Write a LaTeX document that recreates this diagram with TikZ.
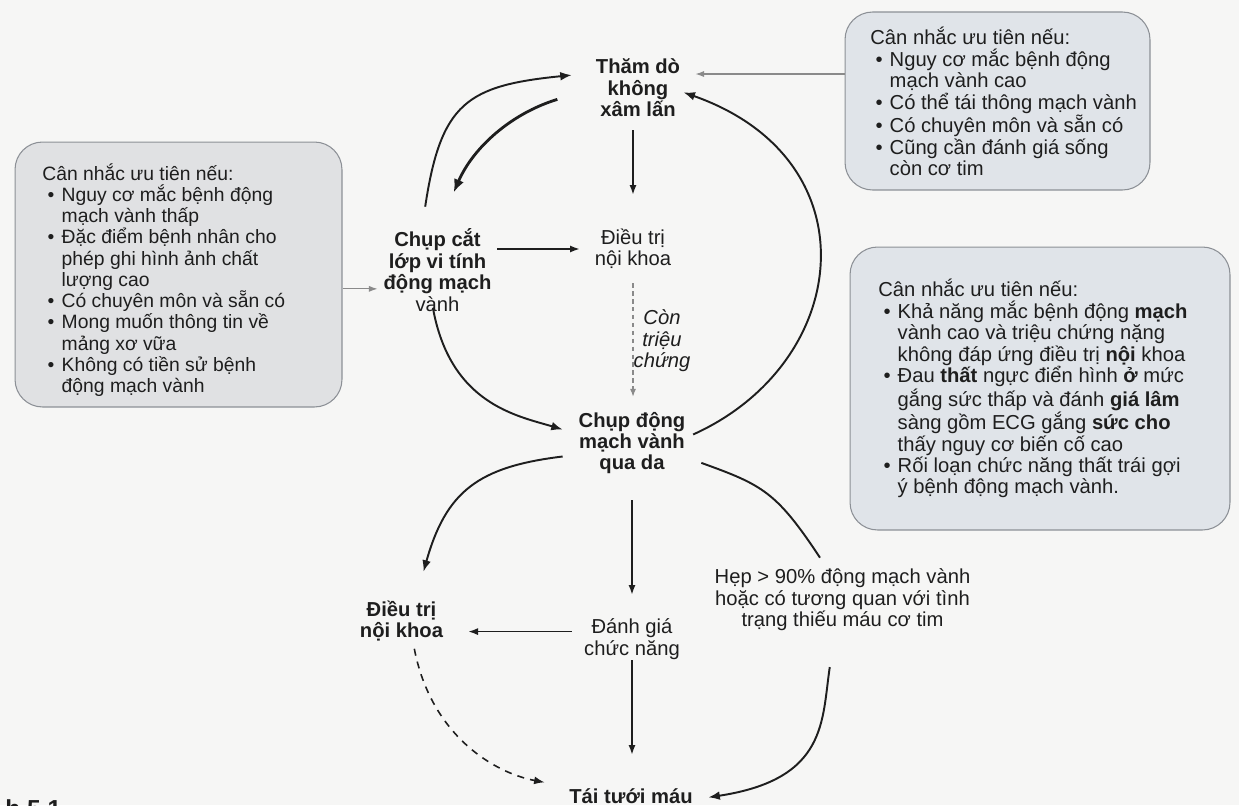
\documentclass[tikz,border=0pt]{standalone}
\usepackage{fontspec}
\setmainfont{Liberation Sans}
\usetikzlibrary{arrows.meta}

\definecolor{ink}{HTML}{1E1E1E}
\definecolor{paper}{HTML}{F6F6F5}
\definecolor{boxfillL}{HTML}{E0E1E3}
\definecolor{boxfill}{HTML}{E0E4E9}
\definecolor{boxedge}{HTML}{8C9096}
\definecolor{greyline}{HTML}{8A8A8A}

\newcommand{\fmain}{\fontsize{11.5}{12.2}\selectfont}
\newcommand{\fleft}{\fontsize{11}{12.1}\selectfont}
\newcommand{\bitem}[1]{\makebox[11pt][l]{\hspace{3pt}\textbullet}#1}
\newcommand{\bcont}[1]{\hspace*{11pt}#1}

\begin{document}
\begin{tikzpicture}[x=0.02cm, y=-0.02cm,
  lbl/.style={inner sep=0pt, align=center, text=ink, font=\fmain},
  blbl/.style={lbl, font=\fmain\bfseries},
  note/.style={draw=boxedge, line width=0.6pt, fill=boxfill, rounded corners=0.55cm, inner sep=0pt},
  notetext/.style={inner sep=0pt, align=left, text=ink, anchor=north west},
  arr/.style={draw=ink, line width=1.1pt, -{Latex[length=6.5pt,width=5pt]}},
  sarr/.style={draw=ink, line width=0.8pt, -{Latex[length=5.5pt,width=4pt]}},
  plainline/.style={draw=ink, line width=1.1pt},
  garr/.style={draw=greyline, line width=0.7pt, -{Latex[length=5pt,width=3.5pt]}},
  gdash/.style={draw=greyline, line width=0.6pt, dash pattern=on 2.5pt off 2pt, -{Latex[length=4.5pt,width=3.5pt]}},
  darr/.style={draw=ink, line width=0.9pt, dash pattern=on 4pt off 3.5pt, -{Latex[length=6pt,width=4.5pt]}}
]
% page
\useasboundingbox (0,0) rectangle (1239,805);
\fill[paper] (0,0) rectangle (1239,805);

% side notes
\node[note, fill=boxfillL, minimum width=6.54cm, minimum height=5.3cm] (boxL) at (178.5,274.5) {};
\node[notetext, font=\fleft] (tL) at (42,163) {Cân nhắc ưu tiên nếu:\\
\bitem{Nguy cơ mắc bệnh động}\\
\bcont{mạch vành thấp}\\
\bitem{Đặc điểm bệnh nhân cho}\\
\bcont{phép ghi hình ảnh chất}\\
\bcont{lượng cao}\\
\bitem{Có chuyên môn và sẵn có}\\
\bitem{Mong muốn thông tin về}\\
\bcont{mảng xơ vữa}\\
\bitem{Không có tiền sử bệnh}\\
\bcont{động mạch vành}};

\node[note, minimum width=6.1cm, minimum height=3.56cm] (boxTR) at (997.5,101) {};
\node[notetext, font=\fmain] (tTR) at (870,27) {Cân nhắc ưu tiên nếu:\\
\bitem{Nguy cơ mắc bệnh động}\\
\bcont{mạch vành cao}\\
\bitem{Có thể tái thông mạch vành}\\
\bitem{Có chuyên môn và sẵn có}\\
\bitem{Cũng cần đánh giá sống}\\
\bcont{còn cơ tim}};

\node[note, minimum width=7.6cm, minimum height=5.66cm] (boxR) at (1040,388.5) {};
\node[notetext, font=\fmain] (tR) at (878,279) {Cân nhắc ưu tiên nếu:\\
\bitem{Khả năng mắc bệnh động \textbf{mạch}}\\
\bcont{vành cao và triệu chứng nặng}\\
\bcont{không đáp ứng điều trị \textbf{nội} khoa}\\
\bitem{Đau \textbf{thất} ngực điển hình \textbf{ở} mức}\\
\bcont{gắng sức thấp và đánh \textbf{giá lâm}}\\
\bcont{sàng gồm ECG gắng \textbf{sức cho}}\\
\bcont{thấy nguy cơ biến cố cao}\\
\bitem{Rối loạn chức năng thất trái gợi}\\
\bcont{ý bệnh động mạch vành.}};

% flow nodes (fixed frames so that connector ends sit clear of the text)
\node[blbl, minimum width=2.64cm, minimum height=1.68cm] (tham) at (638,88) {Thăm dò\\không\\xâm lấn};
\node[lbl, minimum width=2.12cm, minimum height=2.16cm] (dt1) at (633,249) {Điều trị\\nội khoa};
\node[blbl, minimum width=2.38cm, minimum height=2.52cm] (chupcat) at (437.5,270) {Chụp cắt\\lớp vi tính\\động mạch\\{\mdseries vành}};
\node[lbl, font=\fmain\itshape] (con) at (662,341) {Còn\\triệu\\chứng};
\node[blbl, minimum width=2.76cm, minimum height=1.84cm] (chupdong) at (632,443) {Chụp động\\mạch vành\\qua da};
\node[blbl, minimum width=2.66cm, minimum height=1.96cm] (dt2) at (401.5,621) {Điều trị\\nội khoa};
\node[lbl, minimum width=2.4cm, minimum height=1.76cm] (danhgia) at (632,639) {Đánh giá\\chức năng};
\node[lbl, minimum width=5.4cm, minimum height=1.68cm] (hep) at (842.5,600) {Hẹp > 90\% động mạch vành\\hoặc có tương quan với tình\\trạng thiếu máu cơ tim};
\node[blbl, minimum width=3.44cm, minimum height=1.64cm] (tai) at (631,796) {Tái tưới máu};

% caption remnant at the lower edge
\begin{scope}
\clip (0,0) rectangle (1239,805);
\node[inner sep=0pt, anchor=base west, text=ink, font=\fontsize{14}{16}\selectfont\bfseries] (cap) at (5,817) {h 5.1};
\end{scope}

% connectors from the side notes
\draw[garr, shorten >=-0.18cm] (boxTR.170) -- (boxTR.170 -| tham.east);
\draw[garr] (boxL.-5) -- (boxL.-5 -| chupcat.west);

% upper loop
\draw[arr] (chupcat.101) .. controls +(15.6,-103.8) and +(-104.9,10.5) .. (tham.169);
\draw[arr, line width=1.6pt, -{Latex[length=7.5pt,width=6pt]}, shorten <=0.3cm, shorten >=0.31cm] (tham.186.9) .. controls +(-61,18.7) and +(25.4,-58.8) .. (chupcat.81.4);
\draw[sarr] (tham.south -| dt1.north) -- (dt1.north);
\draw[sarr] (chupcat.east |- dt1.west) -- (dt1.west);
\draw[gdash, shorten <=-0.4cm] (dt1.south) -- (dt1.south |- chupdong.north);
\draw[arr, shorten <=-0.52cm] (chupcat.south) .. controls +(12.8,70.9) and +(-45.5,-13.7) .. (chupdong.169.3);
\draw[arr, shorten <=-0.18cm, shorten >=-0.44cm] (chupdong.10.7) .. controls +(150.5,-67.8) and +(170.3,59.8) .. (tham.-10);

% lower part
\draw[arr] (chupdong.191.5) .. controls +(-84,10.2) and +(22.7,-80.7) .. (dt2.66.3);
\draw[sarr, shorten <=0.22cm] (chupdong.south) -- (chupdong.south |- danhgia.north);
\draw[plainline] (chupdong.-16.2) .. controls +(61.2,22.1) and +(-43.8,-66.2) .. (hep.118.2);
\draw[arr, shorten <=0.5cm, shorten >=-0.18cm] (hep.-102.7) .. controls +(-11.8,78) and +(110.5,-16.7) .. (tai.east);
\draw[sarr] (danhgia.173.3) -- (danhgia.173.3 -| dt2.east);
\draw[sarr, shorten <=-0.46cm] (danhgia.south) -- (danhgia.south |- tai.north);
\draw[darr, shorten <=-0.44cm] (dt2.-71.4) .. controls +(12.9,66.4) and +(-48.8,-9) .. (tai.171.4);
\end{tikzpicture}
\end{document}
